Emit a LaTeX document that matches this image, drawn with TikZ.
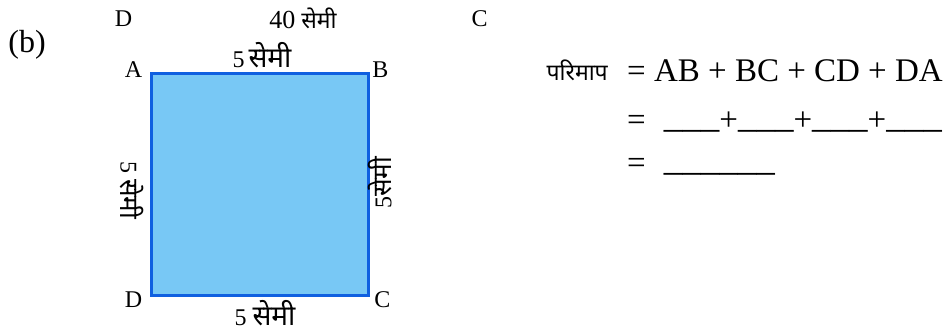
\documentclass[tikz,border=0pt]{standalone}
\usepackage{fontspec}
\setmainfont{Liberation Serif}
\newfontfamily\dev[Script=Devanagari]{Noto Sans}
\newcommand{\blk}[1]{{\fontsize{37}{40}\selectfont\raisebox{3pt}{#1}}}
\begin{document}
\begin{tikzpicture}[x=1pt,y=-1pt,
  lbl/.style={inner sep=0pt,font=\fontsize{24}{26}\selectfont},
  dlbl/.style={inner sep=0pt,font=\fontsize{24}{26}\selectfont},
  eqn/.style={inner sep=0pt,anchor=base west,font=\fontsize{33}{36}\selectfont},
  sq/.style={draw={rgb,255:red,16;green,96;blue,224},line width=3pt,fill={rgb,255:red,120;green,200;blue,245}}]
\useasboundingbox (0,0) rectangle (951,332);
\coordinate (A) at (151,73);
\coordinate (B) at (368,73);
\coordinate (C) at (368,295);
\coordinate (D) at (151,295);
\draw[sq] (A) -- (B) -- (C) -- (D) -- cycle;
\node[inner sep=0pt,font=\fontsize{32}{34}\selectfont] (b) at (27,45) {(b)};
\node[lbl] (dtop) at (123.5,19) {D};
\node[lbl] (ctop) at (479.5,19) {C};
\node[dlbl] (top40) at (303,18) {{\fontsize{26}{28}\selectfont 40} {\fontsize{23}{26}\selectfont\dev सेमी}};
\node[lbl] (la) at (133.5,70) {A};
\node[lbl] (lb) at (380.5,70) {B};
\node[lbl] (ld) at (133.5,300) {D};
\node[lbl] (lc) at (382.5,300) {C};
\node[dlbl,anchor=base] (sab) at (262,67) {5\,{\fontsize{28}{30}\selectfont\dev सेमी}};
\node[dlbl] (sdc) at (265,313) {5 {\fontsize{28}{30}\selectfont\dev सेमी}};
\node[dlbl,rotate=-90] (sda) at (132,190) {5 {\fontsize{26}{28}\selectfont\dev सेमी}};
\node[dlbl,rotate=90] (sbc) at (380,183) {5{\fontsize{26}{28}\selectfont\dev सेमी}};
\node[inner sep=0pt,anchor=base east,font=\fontsize{23}{26}\selectfont\dev] (per) at (608,80) {परिमाप};
\node[eqn] (l1) at (627,81) {= AB + BC + CD + DA};
\node[eqn] (l2) at (627,130) {=\hspace{0.55em}\blk{\_\_\_}+\blk{\_\_\_}+\blk{\_\_\_}+\blk{\_\_\_}};
\node[eqn] (l3) at (627,173) {=\hspace{0.55em}\blk{\_\_\_\_\_\_}};
\end{tikzpicture}
\end{document}
